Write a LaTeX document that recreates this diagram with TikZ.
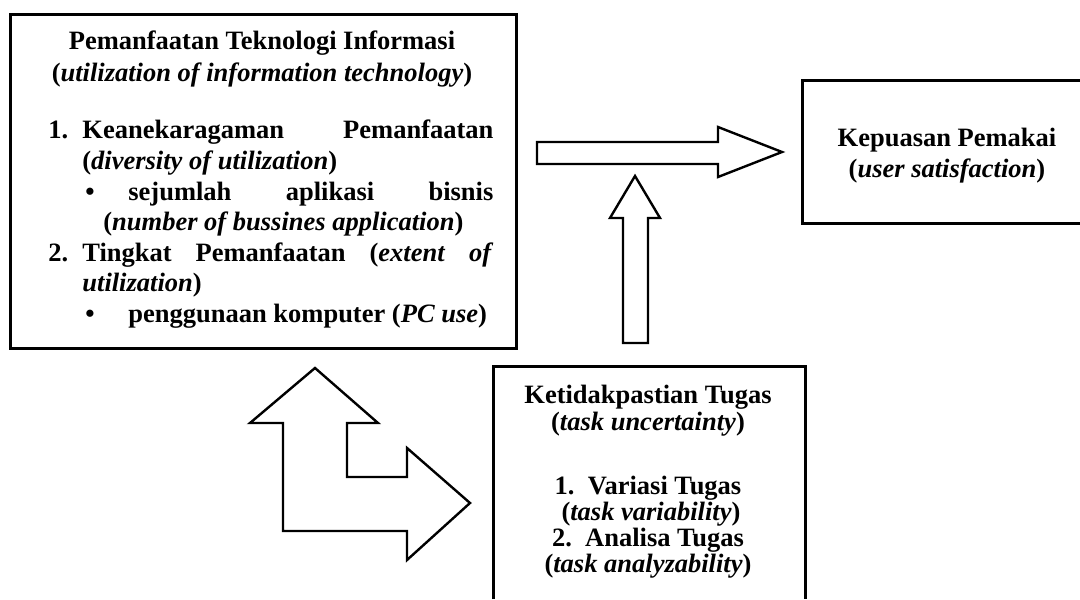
\documentclass[tikz,border=0pt]{standalone}
\usepackage{fontspec}
\setmainfont{Liberation Serif}
\begin{document}
\begin{tikzpicture}[x=0.5pt,y=-0.5pt,
  boxline/.style={line width=1.5pt},
  blockarrow/.style={line width=1.2pt, line join=miter, fill=white},
  txt/.style={inner sep=0pt, anchor=base west, font=\fontsize{13.25}{15}\selectfont\bfseries},
  ctxt/.style={txt, anchor=base}]
\useasboundingbox (0,0) rectangle (1080,599);

% left box
\node[draw, boxline, anchor=north west, inner sep=0pt, minimum width=253pt, minimum height=167pt] (util) at (9,13) {};
\node[ctxt] (u1) at (262,50) {Pemanfaatan Teknologi Informasi};
\node[ctxt] (u2) at (262,82) {(\textit{utilization of information technology})};
\node[txt] (u3n) at (48,139) {1.};
\node[txt] (u3) at (82,139) {\hbox to 205.5pt{Keanekaragaman\hfill Pemanfaatan}};
\node[txt] (u4) at (82,169.5) {(\textit{diversity of utilization})};
\node[txt] (u5b) at (85,200) {•};
\node[txt] (u5) at (128,200) {\hbox to 182.5pt{sejumlah\hfill aplikasi\hfill bisnis}};
\node[txt] (u6) at (103,230.5) {(\textit{number of bussines application})};
\node[txt] (u7n) at (48,261) {2.};
\node[txt] (u7) at (82,261) {\hbox to 205.5pt{Tingkat\hfill Pemanfaatan\hfill (\textit{extent}\hfill\textit{of}}};
\node[txt] (u8) at (82,291.5) {\textit{utilization})};
\node[txt] (u9b) at (85,322) {•};
\node[txt] (u9) at (128,322) {penggunaan komputer (\textit{PC use})};

% right box (cut by the page edge)
\node[ctxt] (k1) at (947,147) {Kepuasan Pemakai};
\node[ctxt] (k2) at (947,177) {(\textit{user satisfaction})};
\draw[boxline] (1080,81) -- (802,81) -- (802,223) -- (1080,223);

% bottom box (cut by the page edge)
\node[ctxt] (t1) at (648,403) {Ketidakpastian Tugas};
\node[ctxt] (t2) at (648,430) {(\textit{task uncertainty})};
\node[ctxt] (t3) at (648,494) {1.\ \ Variasi Tugas};
\node[ctxt] (t4) at (651,520) {(\textit{task variability})};
\node[ctxt] (t5) at (648,546) {2.\ \ Analisa Tugas};
\node[ctxt] (t6) at (648,572) {(\textit{task analyzability})};
\draw[boxline] (493,599) -- (493,366) -- (805,366) -- (805,599);

% block arrows
\draw[blockarrow] (537,142) -- (718,142) -- (718,127) -- (782,152) -- (718,177) -- (718,164) -- (537,164) -- cycle;
\draw[blockarrow] (623,343) -- (623,218) -- (610,218) -- (635,176) -- (660,218) -- (648,218) -- (648,343) -- cycle;
\draw[blockarrow] (283,531) -- (283,423) -- (250,423) -- (315,368) -- (378,423) -- (347,423) -- (347,477)
  -- (407,477) -- (407,448) -- (470,503) -- (407,560) -- (407,531) -- cycle;
\end{tikzpicture}
\end{document}
